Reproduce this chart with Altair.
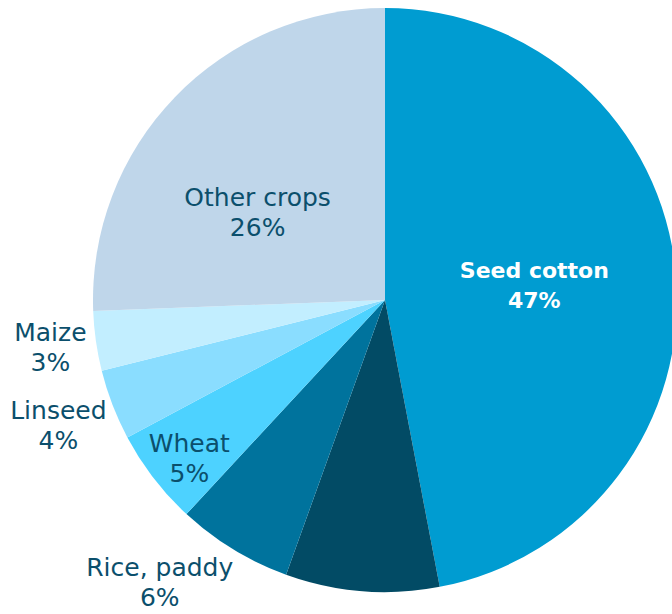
import altair as alt
import pandas as pd

crops = ["Seed cotton", "Unlabelled", "Rice, paddy", "Wheat", "Linseed", "Maize", "Other crops"]
shares = [47.0, 8.5, 6.4, 5.3, 3.9, 3.3, 25.6]
pct_labels = ["47%", "", "6%", "5%", "4%", "3%", "26%"]
colors = ["#009cd1", "#024b65", "#00739d", "#4dd2ff", "#8addff", "#c2eeff", "#bfd6ea"]

df = pd.DataFrame({
    "crop": crops,
    "share": shares,
    "pct": pct_labels,
    "order": list(range(len(crops))),
})

CX, CY, R = 385, 300, 292
TEXT_DARK = "#0b4f6c"
FONT = "DejaVu Sans"

base = alt.Chart(df).encode(
    theta=alt.Theta("share:Q", stack=True),
    order=alt.Order("order:Q"),
    x=alt.value(CX),
    y=alt.value(CY),
)

pie = base.mark_arc(radius=R).encode(
    color=alt.Color("crop:N", scale=alt.Scale(domain=crops, range=colors), legend=None)
)


def label(crop, radius, color=TEXT_DARK, weight="normal", size=25, theta_offset=0.0):
    return base.transform_calculate(
        t=f"datum.crop === '{crop}' ? datum.crop + '\\n' + datum.pct : ''"
    ).mark_text(
        radius=radius,
        thetaOffset=theta_offset,
        font=FONT,
        fontSize=size,
        fontWeight=weight,
        color=color,
        lineBreak="\n",
        lineHeight=30,
        align="center",
        baseline="middle",
        dy=-15,
    ).encode(text="t:N")


layers = [
    pie,
    label("Seed cotton", 150, color="white", weight="bold", size=22),
    label("Other crops", 154, theta_offset=-0.17),
    label("Wheat", 252, theta_offset=-0.025),
    label("Linseed", 350),
    label("Maize", 338),
    label("Rice, paddy", 362, theta_offset=0.125),
]

chart = alt.layer(*layers).properties(
    width=672, height=614, padding=0, autosize="none"
).configure_view(stroke=None)

chart.save("out.html", embed_options={"renderer": "svg", "actions": False})
